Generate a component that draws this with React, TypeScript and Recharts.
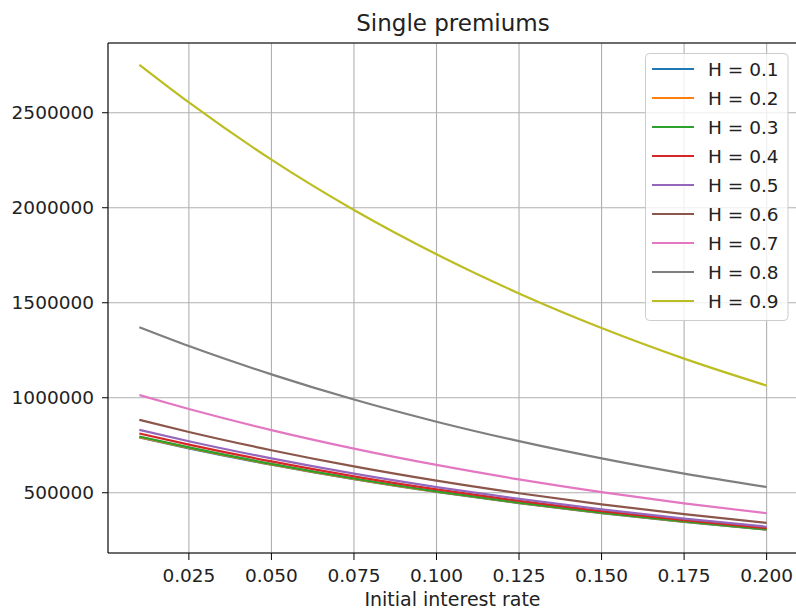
import { LineChart, Line, XAxis, YAxis, CartesianGrid, ReferenceLine } from "recharts";

// interest rates on the x axis
const rates = [0.01, 0.025, 0.05, 0.075, 0.1, 0.125, 0.15, 0.175, 0.2];

// single premiums per Hurst value
const h01 = [791000, 734000, 647800, 571500, 504300, 445100, 392800, 346600, 305900];
const h02 = [793000, 735900, 649500, 573000, 505600, 446200, 393800, 347500, 306600];
const h03 = [796000, 738700, 651900, 575100, 507500, 447900, 395300, 348800, 307800];
const h04 = [812000, 753500, 665000, 586700, 517700, 456900, 403200, 355800, 314000];
const h05 = [831000, 771000, 680600, 600400, 529900, 467600, 412700, 364100, 321300];
const h06 = [884000, 820000, 724000, 638700, 563600, 497400, 439000, 387400, 341800];
const h07 = [1014000, 941000, 830000, 732600, 646500, 570600, 503500, 444300, 392100];
const h08 = [1371000, 1272000, 1123000, 990500, 874000, 771500, 681000, 601000, 530000];
const h09 = [2752000, 2554000, 2253000, 1988000, 1755000, 1549000, 1367000, 1206000, 1064000];

const xTicks = [0.025, 0.05, 0.075, 0.1, 0.125, 0.15, 0.175, 0.2];
const yTicks = [500000, 1000000, 1500000, 2000000, 2500000];

const xDomain: [number, number] = [0.0005, 0.2095];
const yDomain: [number, number] = [183000, 2867000];

const series = [
  { key: "h01", label: "H = 0.1", color: "#1f77b4", values: h01 },
  { key: "h02", label: "H = 0.2", color: "#ff7f0e", values: h02 },
  { key: "h03", label: "H = 0.3", color: "#2ca02c", values: h03 },
  { key: "h04", label: "H = 0.4", color: "#d62728", values: h04 },
  { key: "h05", label: "H = 0.5", color: "#9467bd", values: h05 },
  { key: "h06", label: "H = 0.6", color: "#8c564b", values: h06 },
  { key: "h07", label: "H = 0.7", color: "#e377c2", values: h07 },
  { key: "h08", label: "H = 0.8", color: "#7f7f7f", values: h08 },
  { key: "h09", label: "H = 0.9", color: "#bcbd22", values: h09 },
];

const data = rates.map((rate, i) => {
  const row: Record<string, number> = { rate };
  series.forEach((s) => {
    row[s.key] = s.values[i];
  });
  return row;
});

const FONT = "'DejaVu Sans', sans-serif";
const tickStyle = { fontFamily: FONT, fontSize: 18.5, fill: "#222" };

export default function App() {
  return (
    <div
      style={{
        position: "absolute",
        left: 0,
        top: 0,
        width: 796,
        height: 610,
        overflow: "hidden",
        background: "#fff",
        fontFamily: FONT,
      }}
    >
      <LineChart
        width={800}
        height={610}
        data={data}
        margin={{ top: 43, right: 2, bottom: 27, left: 0 }}
      >
        <CartesianGrid stroke="#b0b0b0" strokeWidth={1.1} />
        <XAxis
          dataKey="rate"
          type="number"
          domain={xDomain}
          ticks={xTicks}
          tickFormatter={(v: number) => v.toFixed(3)}
          tick={tickStyle}
          tickSize={7}
          tickMargin={9}
          height={30}
          stroke="#000"
          allowDataOverflow
        />
        <YAxis
          type="number"
          domain={yDomain}
          ticks={yTicks}
          tick={tickStyle}
          tickSize={6}
          tickMargin={8}
          width={108}
          stroke="#000"
          allowDataOverflow
        />
        <ReferenceLine y={yDomain[1]} stroke="#000" strokeWidth={1} />
        <ReferenceLine x={xDomain[1]} stroke="#000" strokeWidth={1} />
        {series.map((s) => (
          <Line
            key={s.key}
            dataKey={s.key}
            type="monotone"
            stroke={s.color}
            strokeWidth={2.2}
            dot={false}
            activeDot={false}
            isAnimationActive={false}
          />
        ))}
      </LineChart>
      <svg
        width={796}
        height={610}
        style={{ position: "absolute", left: 0, top: 0, pointerEvents: "none" }}
      >
        <text x={453} y={31} textAnchor="middle" fontSize={23} fontFamily={FONT} fill="#222">
          Single premiums
        </text>
        <text x={452.5} y={606} textAnchor="middle" fontSize={19} fontFamily={FONT} fill="#222">
          Initial interest rate
        </text>
        <rect
          x={645.5}
          y={53.5}
          width={142.5}
          height={267}
          rx={4}
          fill="#fff"
          fillOpacity={0.8}
          stroke="#cccccc"
          strokeWidth={1}
        />
        {series.map((s, i) => (
          <g key={s.key}>
            <line x1={652} x2={694} y1={69 + i * 29} y2={69 + i * 29} stroke={s.color} strokeWidth={2.2} />
            <text x={708} y={69 + i * 29 + 6.5} fontSize={18.5} fontFamily={FONT} fill="#222">
              {s.label}
            </text>
          </g>
        ))}
      </svg>
    </div>
  );
}
